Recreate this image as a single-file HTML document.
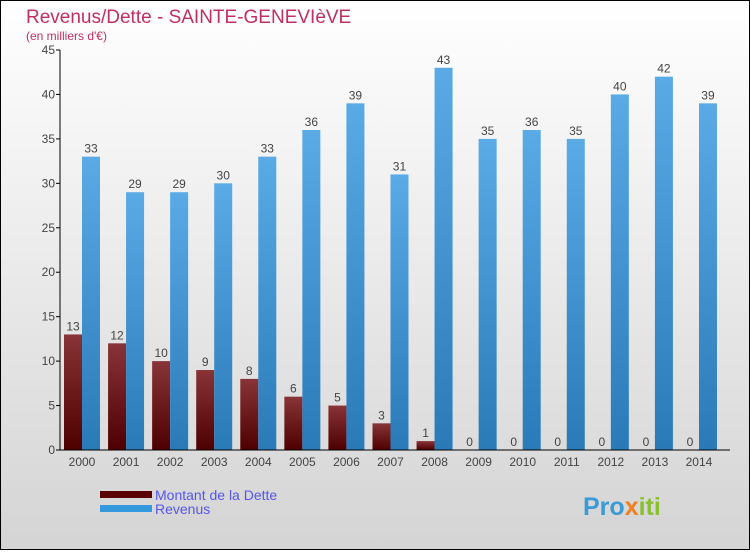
<!DOCTYPE html>
<html><head><meta charset="utf-8"><style>
body{margin:0;width:750px;height:550px;overflow:hidden;font-family:"Liberation Sans",sans-serif}
</style></head><body>
<svg id="c" width="750" height="550" xmlns="http://www.w3.org/2000/svg">
<defs>
<linearGradient id="bg" x1="0" y1="0" x2="0" y2="1"><stop offset="0" stop-color="#ffffff"/><stop offset="1" stop-color="#d4d4d4"/></linearGradient>
<linearGradient id="gd" x1="0" y1="0" x2="0" y2="1"><stop offset="0" stop-color="#883438"/><stop offset="1" stop-color="#4e0000"/></linearGradient>
<linearGradient id="gr" x1="0" y1="0" x2="0" y2="1"><stop offset="0" stop-color="#5aaae6"/><stop offset="1" stop-color="#2a7ab8"/></linearGradient>
</defs>
<rect x="0.5" y="0.5" width="749" height="549" fill="url(#bg)" stroke="#000"/>
<text x="26" y="23" font-size="19" fill="#c0305f">Revenus/Dette - SAINTE-GENEVIèVE</text>
<text x="26" y="40" font-size="12" fill="#c0305f">(en milliers d'€)</text>
<g id="plot"></g>
<g>
<rect x="100" y="491" width="52" height="7" fill="#5a0000"/>
<text x="155" y="500" font-size="14" fill="#5555ee">Montant de la Dette</text>
<rect x="100" y="505" width="52" height="7" fill="#3498dc"/>
<text x="155" y="514" font-size="14" fill="#5555ee">Revenus</text>
</g>
<text x="583" y="515" font-size="25" font-weight="bold" fill="#3a9ad8">Pro<tspan fill="#f08020">x</tspan><tspan fill="#8ac030">iti</tspan></text>
</svg>
<script>
const years=["2000","2001","2002","2003","2004","2005","2006","2007","2008","2009","2010","2011","2012","2013","2014"];
const dette=[13,12,10,9,8,6,5,3,1,0,0,0,0,0,0];
const revenus=[33,29,29,30,33,36,39,31,43,35,36,35,40,42,39];
const yTicks=[0,5,10,15,20,25,30,35,40,45];
const NS="http://www.w3.org/2000/svg";
const g=document.getElementById('plot');
const y=v=>450-v*400/45;
const xc=i=>82+i*44.07;
function mk(t,a,txt){const e=document.createElementNS(NS,t);for(const k in a)e.setAttribute(k,a[k]);if(txt!==undefined)e.textContent=txt;g.appendChild(e);return e;}
yTicks.forEach(v=>{
 const l=mk('line',{x1:56,x2:60,y1:y(v),y2:y(v),stroke:'#000'});
 
 
 const t=mk('text',{x:55,y:y(v)+4,'font-size':12,fill:'#444','text-anchor':'end'},v);
 
 
});
years.forEach((yr,i)=>{
 const x=xc(i);
 const d=mk('rect',{x:x-18,y:y(dette[i]),width:18,height:450-y(dette[i]),fill:'url(#gd)'});
 
 
 const r=mk('rect',{x:x,y:y(revenus[i]),width:18,height:450-y(revenus[i]),fill:'url(#gr)'});
 
 
 const a=mk('text',{x:x-9,y:y(dette[i])-4,'font-size':12,fill:'#444','text-anchor':'middle'},dette[i]);
 
 
 const b=mk('text',{x:x+9,y:y(revenus[i])-4,'font-size':12,fill:'#444','text-anchor':'middle'},revenus[i]);
 
 
 const t=mk('text',{x:x,y:466,'font-size':12,fill:'#444','text-anchor':'middle'},yr);
 
 
});
const ya=mk('line',{x1:60,x2:60,y1:50,y2:450,stroke:'#000'});


const xa=mk('line',{x1:60,x2:730,y1:450,y2:450,stroke:'#000'});


</script>
</body></html>
